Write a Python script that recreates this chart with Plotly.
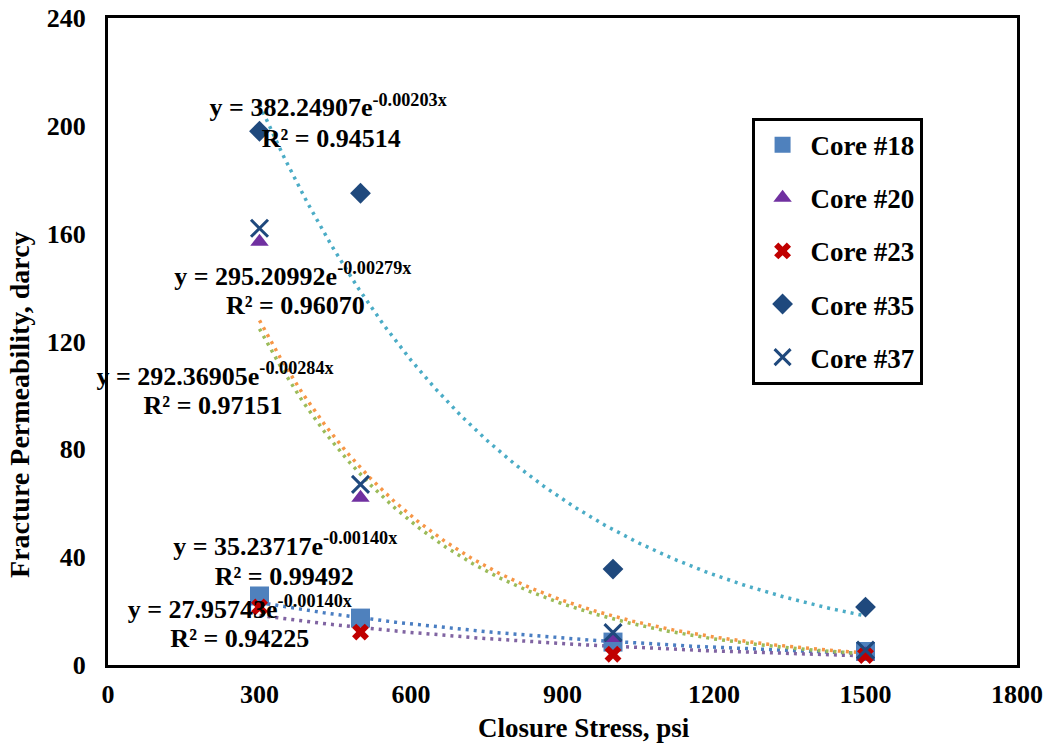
import numpy as np
import plotly.graph_objects as go

# Closure stress (psi) and measured fracture permeability (darcy) per core
stress = [300, 500, 1000, 1500]
core18 = [25.6, 17.4, 8.5, 5.0]
core20 = [157.0, 62.0, 10.0, 4.0]
core23 = [21.5, 12.2, 4.0, 3.5]
core35 = [198.0, 175.0, 35.6, 21.5]
core37 = [162.0, 67.0, 12.0, 5.5]

# Exponential trendline coefficients: y = a * exp(b * x)
fit_a = {"18": 35.23717, "20": 295.20992, "23": 27.95743, "35": 382.24907, "37": 292.36905}
fit_b = {"18": -0.00140, "20": -0.00279, "23": -0.00140, "35": -0.00203, "37": -0.00284}
fit_r2 = {"18": "0.99492", "20": "0.96070", "23": "0.94225", "35": "0.94514", "37": "0.97151"}

# Where each equation / R² label sits, in data units (x psi, y darcy)
eq_pos = {"35": (436, 205.9), "20": (366, 143.5), "37": (212, 106.3),
          "18": (351, 43.2), "23": (261, 19.9)}
r2_pos = {"35": (442, 194.4), "20": (371, 132.7), "37": (208, 95.5),
          "18": (349, 32.2), "23": (261, 9.1)}

FONT = "Liberation Serif, Times New Roman, serif"
BOLD = dict(family=FONT, color="black", weight="bold")

series = [
    ("18", core18, dict(symbol="square", size=19, color="#4F81BD"), "#4A7EC2"),
    ("20", core20, dict(symbol="triangle-up", size=16, color="#7030A0"), "#F79646"),
    ("23", core23, dict(symbol="x", size=15, color="#C00000"), "#8064A2"),
    ("35", core35, dict(symbol="diamond", size=16, color="#1F497D"), "#4BACC6"),
    ("37", core37, dict(symbol="x-thin-open", size=17, color="#1F497D",
                        line=dict(width=3, color="#1F497D")), "#9BBB59"),
]

fig = go.Figure()

# Trendlines (drawn first so the markers sit on top)
xs = np.linspace(min(stress), max(stress), 300)
for key, _, _, tcolor in series:
    fig.add_trace(go.Scatter(
        x=xs, y=fit_a[key] * np.exp(fit_b[key] * xs), mode="lines",
        line=dict(color=tcolor, width=3.5, dash="3px,5px"),
        showlegend=False, hoverinfo="skip"))

for key, vals, marker, _ in series:
    fig.add_trace(go.Scatter(
        x=stress, y=vals, mode="markers", name=f"Core #{key}",
        marker=marker, legendgroup=key))

# Trendline equation labels
label_x, label_y, label_txt = [], [], []
for key in eq_pos:
    label_x += [eq_pos[key][0], r2_pos[key][0]]
    label_y += [eq_pos[key][1], r2_pos[key][1]]
    label_txt += [f"y = {fit_a[key]:.5f}e<sup>{fit_b[key]:.5f}x</sup>",
                  f"R² = {fit_r2[key]}"]
fig.add_trace(go.Scatter(
    x=label_x, y=label_y, text=label_txt, mode="text",
    textposition="middle center", textfont=dict(size=26, **BOLD),
    cliponaxis=False, showlegend=False, hoverinfo="skip"))

# Axis titles
fig.add_annotation(x=0.5237, y=-0.0974, xref="paper", yref="paper",
                   text="Closure Stress, psi", showarrow=False,
                   xanchor="center", yanchor="middle", font=dict(size=27, **BOLD))
fig.add_annotation(x=-0.0968, y=0.402, xref="paper", yref="paper",
                   text="Fracture Permeability, darcy", showarrow=False, textangle=-90,
                   xanchor="center", yanchor="middle", font=dict(size=28, **BOLD))

axis_common = dict(showgrid=False, zeroline=False, showline=True, linecolor="black",
                   linewidth=3, mirror=True, ticks="", automargin=False,
                   tickfont=dict(size=26, **BOLD))

fig.update_layout(
    width=1047, height=745,
    margin=dict(l=108, r=30, t=18, b=80),
    paper_bgcolor="white", plot_bgcolor="white",
    font=dict(family=FONT, color="black"),
    xaxis=dict(range=[0, 1800], tickvals=[0, 300, 600, 900, 1200, 1500, 1800],
               ticklabelstandoff=4, **axis_common),
    yaxis=dict(range=[0, 240], tickvals=[0, 40, 80, 120, 160, 200, 240],
               ticklabelstandoff=14, **axis_common),
    legend=dict(x=0.708, y=0.846, xanchor="left", yanchor="top",
                bgcolor="white", bordercolor="black", borderwidth=3,
                font=dict(size=27, **BOLD),
                tracegroupgap=15, itemwidth=46),
)

fig.write_html("out.html")
